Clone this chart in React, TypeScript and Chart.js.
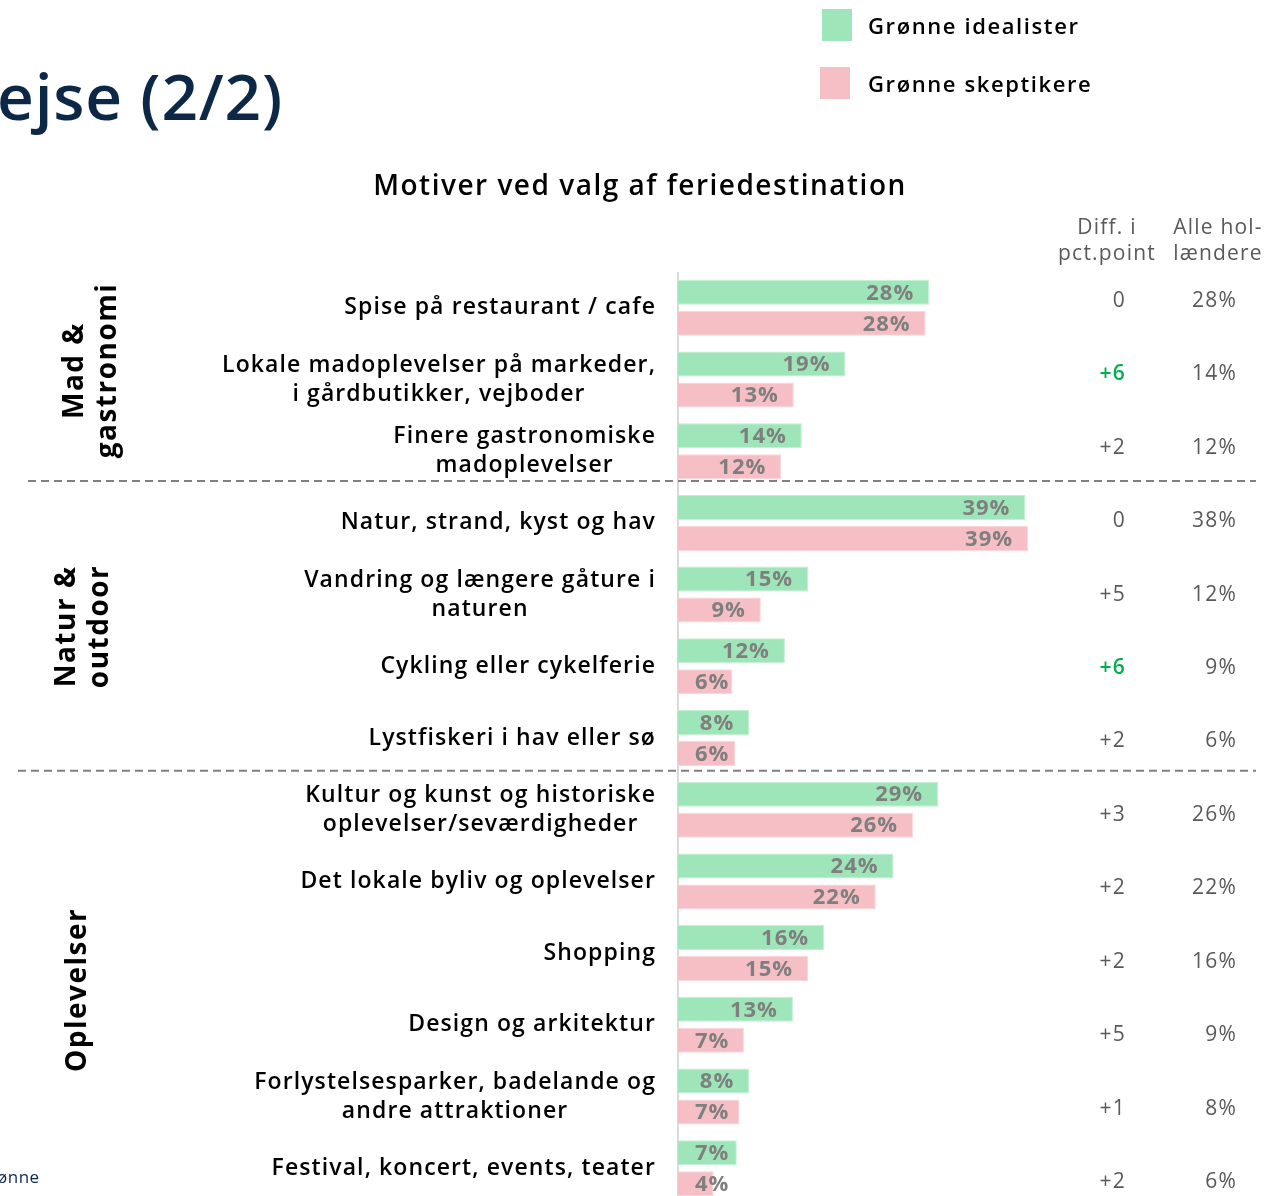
import React, { useEffect, useRef } from "react";
import { Chart, registerables } from "chart.js";

Chart.register(...registerables);

const categories: string[][] = [
  ["Spise på restaurant / cafe"],
  ["Lokale madoplevelser på markeder,", "i gårdbutikker, vejboder"],
  ["Finere gastronomiske", "madoplevelser"],
  ["Natur, strand, kyst og hav"],
  ["Vandring og længere gåture i", "naturen"],
  ["Cykling eller cykelferie"],
  ["Lystfiskeri i hav eller sø"],
  ["Kultur og kunst og historiske", "oplevelser/seværdigheder"],
  ["Det lokale byliv og oplevelser"],
  ["Shopping"],
  ["Design og arkitektur"],
  ["Forlystelsesparker, badelande og", "andre attraktioner"],
  ["Festival, koncert, events, teater"],
];

const idealister = [28.2, 18.8, 13.9, 39.0, 14.6, 12.0, 8.0, 29.2, 24.2, 16.4, 12.9, 8.0, 6.6];
const skeptikere = [27.8, 13.0, 11.6, 39.3, 9.3, 6.1, 6.4, 26.4, 22.2, 14.6, 7.4, 6.9, 4.0];
const diffLabels = ["0", "+6", "+2", "0", "+5", "+6", "+2", "+3", "+2", "+2", "+5", "+1", "+2"];
const diffHighlight = [false, true, false, false, false, true, false, false, false, false, false, false, false];
const alleLabels = ["28%", "14%", "12%", "38%", "12%", "9%", "6%", "26%", "22%", "16%", "9%", "8%", "6%"];

const groupLabels: string[][] = [["Mad &", "gastronomi"], ["Natur &", "outdoor"], ["Oplevelser"]];
const groupFrom = [0, 3, 7];
const groupTo = [2, 6, 12];

const seriesNames = ["Grønne idealister", "Grønne skeptikere"];
const chartTitle = "Motiver ved valg af feriedestination";
const pageTitle = "ejse (2/2)";
const footerText = "ønne";
const diffHeader = ["Diff. i", "pct.point"];
const alleHeader = ["Alle hol-", "lændere"];

const GREEN = "#9ee6b9";
const PINK = "#f6bfc5";
const FONT = "'Open Sans', 'DejaVu Sans', sans-serif";

const W = 1266;
const H = 1212;

function setLS(ctx: any, v: number) {
  try {
    ctx.letterSpacing = v + "px";
  } catch (e) {}
}

const overlayPlugin = {
  id: "overlay",
  beforeDatasetsDraw(chart: any) {
    const ctx = chart.ctx;
    const xs = chart.scales.x;
    const ca = chart.chartArea;
    const x0 = xs.getPixelForValue(0);
    ctx.save();
    ctx.strokeStyle = "#d9d9d9";
    ctx.lineWidth = 2;
    ctx.beginPath();
    ctx.moveTo(x0, ca.top);
    ctx.lineTo(x0, ca.bottom);
    ctx.stroke();
    ctx.restore();
  },
  afterDatasetsDraw(chart: any) {
    const ctx = chart.ctx;
    const xs = chart.scales.x;
    const ys = chart.scales.y;
    const x0 = xs.getPixelForValue(0);
    ctx.save();

    // data labels
    setLS(ctx, 1);
    ctx.font = `700 22px ${FONT}`;
    ctx.fillStyle = "#7f7f7f";
    ctx.textBaseline = "middle";
    ctx.textAlign = "left";
    chart.data.datasets.forEach((ds: any, di: number) => {
      const meta = chart.getDatasetMeta(di);
      meta.data.forEach((bar: any, i: number) => {
        const txt = Math.round(ds.data[i]) + "%";
        const w = ctx.measureText(txt).width;
        const right = bar.x - 15;
        const left = Math.max(right - w, x0 + 17);
        ctx.fillText(txt, left, bar.y + 1);
      });
    });

    // category labels
    setLS(ctx, 1.1);
    ctx.font = `600 23px ${FONT}`;
    ctx.fillStyle = "#000";
    ctx.textAlign = "center";
    const labelRight = x0 - 22;
    categories.forEach((lines, i) => {
      const cy = ys.getPixelForValue(i);
      let maxW = 0;
      lines.forEach((l) => (maxW = Math.max(maxW, ctx.measureText(l).width)));
      const cx = labelRight - maxW / 2;
      const lh = 29;
      lines.forEach((l, k) => {
        ctx.fillText(l, cx, cy + (k - (lines.length - 1) / 2) * lh);
      });
    });

    // right columns
    setLS(ctx, 1.2);
    ctx.textAlign = "right";
    categories.forEach((_, i) => {
      const cy = ys.getPixelForValue(i) - 7 + 1.75 * i;
      if (diffHighlight[i]) {
        ctx.fillStyle = "#00b050";
        ctx.font = `600 21px ${FONT}`;
      } else {
        ctx.fillStyle = "#595959";
        ctx.font = `400 21px ${FONT}`;
      }
      ctx.fillText(diffLabels[i], 1126, cy);
      ctx.fillStyle = "#595959";
      ctx.font = `400 21px ${FONT}`;
      ctx.fillText(alleLabels[i], 1237, cy);
    });

    // column headers
    ctx.textAlign = "center";
    ctx.fillStyle = "#595959";
    ctx.font = `400 21px ${FONT}`;
    diffHeader.forEach((l, k) => ctx.fillText(l, 1107, 228 + k * 26));
    alleHeader.forEach((l, k) => ctx.fillText(l, 1218, 228 + k * 26));

    // dashed group separators
    setLS(ctx, 0);
    ctx.strokeStyle = "#808080";
    ctx.lineWidth = 2;
    ctx.setLineDash([8, 5]);
    const sepStart = [28, 18];
    const sepOffset = [-6, -3];
    for (let g = 1; g < groupFrom.length; g++) {
      const yb = (ys.getPixelForValue(groupTo[g - 1]) + ys.getPixelForValue(groupFrom[g])) / 2 + sepOffset[g - 1];
      ctx.beginPath();
      ctx.moveTo(sepStart[g - 1], yb);
      ctx.lineTo(1256, yb);
      ctx.stroke();
    }
    ctx.setLineDash([]);

    // group labels (rotated)
    setLS(ctx, 1.5);
    const groupCx = [91.5, 84, 78];
    const groupDy = [-9, -4, 1];
    ctx.font = `700 28px ${FONT}`;
    ctx.fillStyle = "#000";
    ctx.textAlign = "center";
    ctx.textBaseline = "middle";
    groupLabels.forEach((lines, g) => {
      const cy = (ys.getPixelForValue(groupFrom[g]) + ys.getPixelForValue(groupTo[g])) / 2 + groupDy[g];
      ctx.save();
      ctx.translate(groupCx[g], cy);
      ctx.rotate(-Math.PI / 2);
      lines.forEach((l, k) => {
        ctx.fillText(l, 0, (k - (lines.length - 1) / 2) * 33);
      });
      ctx.restore();
    });

    // chart title
    setLS(ctx, 1.5);
    ctx.font = `600 28px ${FONT}`;
    ctx.fillStyle = "#000";
    ctx.textAlign = "center";
    ctx.fillText(chartTitle, 640, 187);

    // page title
    setLS(ctx, 0.8);
    ctx.font = `600 64px ${FONT}`;
    ctx.fillStyle = "#0d2847";
    ctx.textAlign = "left";
    ctx.textBaseline = "alphabetic";
    ctx.fillText(pageTitle, -3, 120);

    // legend
    setLS(ctx, 1.6);
    ctx.textBaseline = "middle";
    const legColors = [GREEN, PINK];
    const legY = [25, 83];
    const legX = [822, 820];
    ctx.font = `600 22px ${FONT}`;
    seriesNames.forEach((n, k) => {
      ctx.fillStyle = legColors[k];
      ctx.fillRect(legX[k], legY[k] - 16, 30, 32);
      ctx.fillStyle = "#000";
      ctx.fillText(n, 868, legY[k] + 3);
    });

    // footer
    setLS(ctx, 0.5);
    ctx.font = `400 17px ${FONT}`;
    ctx.fillStyle = "#0d2847";
    ctx.fillText(footerText, -3, 1178);

    setLS(ctx, 0);
    ctx.restore();
  },
};

export default function App() {
  const ref = useRef<HTMLCanvasElement | null>(null);

  useEffect(() => {
    document.body.style.margin = "0";
    if (!ref.current) return;
    const chart = new Chart(ref.current, {
      type: "bar",
      data: {
        labels: categories.map((c) => c.join(" ")),
        datasets: [
          {
            label: seriesNames[0],
            data: idealister,
            backgroundColor: GREEN,
            borderColor: "#c2f0d3",
            borderWidth: 1,
            categoryPercentage: 0.865,
            barPercentage: 0.806,
          },
          {
            label: seriesNames[1],
            data: skeptikere,
            backgroundColor: PINK,
            borderColor: "#fad6da",
            borderWidth: 1,
            categoryPercentage: 0.865,
            barPercentage: 0.806,
          },
        ],
      },
      options: {
        indexAxis: "y",
        responsive: false,
        animation: false,
        devicePixelRatio: 1,
        layout: { padding: { left: 678, right: 9, top: 272, bottom: 8 } },
        scales: {
          x: { display: false, min: 0, max: 65 },
          y: { display: false },
        },
        plugins: {
          legend: { display: false },
          title: { display: false },
          tooltip: { enabled: false },
        },
      },
      plugins: [overlayPlugin],
    });
    return () => chart.destroy();
  }, []);

  return (
    <div style={{ position: "absolute", left: 0, top: 0, width: W, height: H, background: "#fff" }}>
      <canvas ref={ref} width={W} height={H} />
    </div>
  );
}
